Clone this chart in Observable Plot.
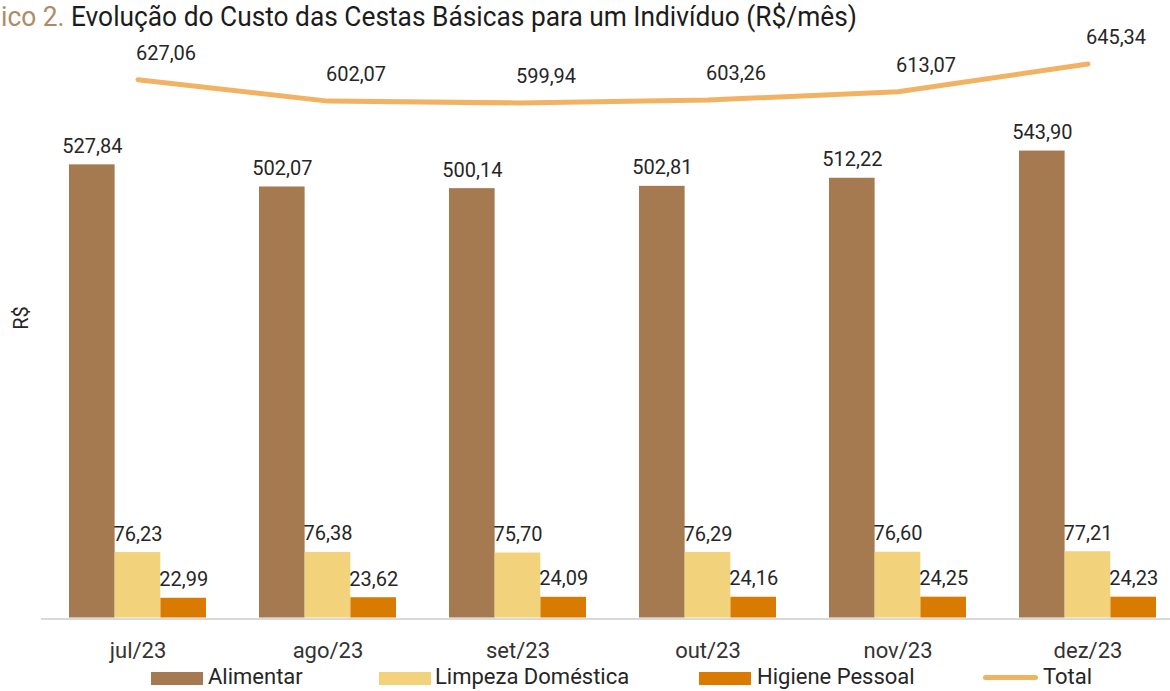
<!DOCTYPE html>
<html><head><meta charset="utf-8">
<script src="https://cdn.jsdelivr.net/npm/d3@7"></script>
<script src="https://cdn.jsdelivr.net/npm/@observablehq/plot@0.6"></script>
<style>
html,body{margin:0;padding:0;background:#fff;overflow:hidden;width:1170px;height:691px;}
#wrap{position:relative;width:1170px;height:691px;overflow:hidden;font-family:Roboto,sans-serif;color:#262626;}
#chart{position:absolute;left:0;top:0;}
#chart svg{overflow:hidden;}
#title{position:absolute;left:1px;top:3px;font-size:28px;line-height:1;white-space:nowrap;color:#1c1c1c;transform-origin:0 0;}
#title .pre{color:#b08a64;}
#ylabel{position:absolute;left:21px;top:318px;font-size:20px;line-height:1;transform:translate(-50%,-50%) rotate(-90deg);white-space:nowrap;}
.lg{position:absolute;}
.lt{position:absolute;top:666px;font-size:22px;line-height:1;white-space:nowrap;color:#262626;}
</style></head><body>
<div id="wrap">
  <div id="chart"></div>
  <div id="title"><span class="pre">ico 2.</span> Evolução do Custo das Cestas Básicas para um Indivíduo (R$/mês)</div>
  <div id="ylabel">R$</div>
  <div id="legend"></div>
</div>
<script>
const months = ["jul/23","ago/23","set/23","out/23","nov/23","dez/23"];
const alimentar = [527.84, 502.07, 500.14, 502.81, 512.22, 543.90];
const limpeza   = [76.23, 76.38, 75.70, 76.29, 76.60, 77.21];
const higiene   = [22.99, 23.62, 24.09, 24.16, 24.25, 24.23];
const total     = [627.06, 602.07, 599.94, 603.26, 613.07, 645.34];
const seriesNames = ["Alimentar","Limpeza Doméstica","Higiene Pessoal","Total"];
const seriesKeys = ["alimentar","limpeza","higiene"];
const colors = ["#a67a50","#f2d37c","#d97b00"];
const lineColor = "#f2b263";

const rows = months.map((m,i)=>({month:m, alimentar:alimentar[i], limpeza:limpeza[i], higiene:higiene[i], total:total[i]}));
const fmt = v => v.toFixed(2).replace(".", ",");

const xRange = [41, 1183.4];
const padIn = 0.28, padOut = 0.14;
const step = (xRange[1]-xRange[0])/(months.length - padIn + 2*padOut);
const bw = step*(1-padIn)/3;

const marks = [Plot.ruleY([0], {stroke:"#d9d9d9", strokeWidth:2, dy:1})];
seriesKeys.forEach((k,i)=>{
  marks.push(Plot.barY(rows, {x:"month", y:k, fill:colors[i], insetLeft:i*bw, insetRight:(2-i)*bw}));
});
seriesKeys.forEach((k,i)=>{
  marks.push(Plot.text(rows, {x:"month", y:k, text:d=>fmt(d[k]), dx:(i-1)*bw, dy:-12, lineAnchor:"bottom", fontSize:20, fill:"#262626"}));
});
marks.push(Plot.line(rows, {x:"month", y:"total", stroke:lineColor, strokeWidth:5, strokeLinecap:"round", strokeLinejoin:"round"}));
marks.push(Plot.text(rows, {x:"month", y:"total", text:d=>fmt(d.total), dx:28, dy:-20, lineAnchor:"bottom", fontSize:20, fill:"#262626"}));

const chart = Plot.plot({
  width:1170, height:691,
  marginTop:0, marginLeft:41, marginRight:0, marginBottom:73.5,
  style:{fontFamily:"Roboto, sans-serif", fontSize:"22px", color:"#333", background:"transparent"},
  x:{domain:months, range:xRange, paddingInner:padIn, paddingOuter:padOut, tickSize:0, tickPadding:24, label:null},
  y:{domain:[0,700], range:[617.5, 617.5-700*0.8585], axis:null},
  marks
});
document.getElementById("chart").appendChild(chart);

// legend
const lg = document.getElementById("legend");
const legendItems = [
  {name:seriesNames[0], color:colors[0], sx:151, tx:208, type:"rect"},
  {name:seriesNames[1], color:colors[1], sx:379, tx:435, type:"rect"},
  {name:seriesNames[2], color:colors[2], sx:699, tx:757, type:"rect"},
  {name:seriesNames[3], color:lineColor, sx:983, tx:1043, type:"line"}
];
legendItems.forEach(it=>{
  const s = document.createElement("div");
  s.className = "lg";
  if (it.type==="rect") { Object.assign(s.style,{left:it.sx+"px", top:"671.5px", width:"52px", height:"13px", background:it.color}); }
  else { Object.assign(s.style,{left:it.sx+"px", top:"675px", width:"55px", height:"5px", borderRadius:"2.5px", background:it.color}); }
  lg.appendChild(s);
  const t = document.createElement("div");
  t.className = "lt"; t.style.left = it.tx+"px"; t.textContent = it.name;
  lg.appendChild(t);
});

// fit title width
const title = document.getElementById("title");
const w = title.getBoundingClientRect().width;
title.style.transform = `scaleX(${856/w})`;
</script>
</body></html>
